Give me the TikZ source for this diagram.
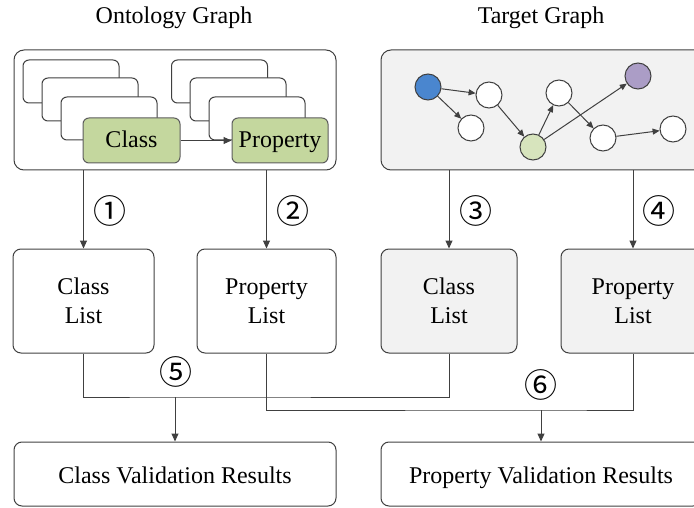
\documentclass[tikz,border=0pt]{standalone}
\usepackage{fontspec}
\setmainfont{Liberation Serif}
\newfontfamily\cjk{Noto Sans CJK SC}
\usetikzlibrary{arrows.meta}
\definecolor{lineC}{HTML}{404040}
\definecolor{grayF}{HTML}{F2F2F2}
\definecolor{greenF}{HTML}{C4D79E}
\definecolor{lgreenF}{HTML}{D7E4BD}
\definecolor{blueF}{HTML}{4A86CF}
\definecolor{purpleF}{HTML}{AB9DC6}
\begin{document}
\begin{tikzpicture}[x=1pt,y=-1pt,
  txt/.style={font=\fontsize{24}{29}\selectfont},
  bigbox/.style={draw=lineC, line width=1pt, rounded corners=10pt, inner sep=0pt},
  listbox/.style={draw=lineC, line width=1pt, rounded corners=8pt, inner sep=0pt, align=center, txt},
  resbox/.style={listbox, text height=18pt, text depth=0pt},
  stackbox/.style={draw=lineC, line width=1pt, rounded corners=6pt, fill=white, inner sep=0pt, minimum width=96pt, minimum height=43pt},
  greenbox/.style={draw=lineC!85, line width=1pt, rounded corners=6pt, fill=greenF, inner sep=0pt, minimum height=45pt, txt, text height=16.5pt, text depth=1.5pt},
  gnode/.style={circle, draw=lineC, line width=1pt, fill=white, minimum size=26pt, inner sep=0pt},
  arr/.style={draw=lineC, line width=1pt, -{Triangle[length=8pt,width=7pt]}},
  garr/.style={draw=lineC, line width=1pt, -{Triangle[length=7pt,width=6pt]}},
  conn/.style={draw=lineC, line width=1pt},
  num/.style={font=\cjk\fontsize{33}{33}\selectfont, inner sep=0pt}]
\useasboundingbox (0,0) rectangle (694,508);

% titles
\node[txt] (t1) at (174,18) {Ontology Graph};
\node[txt] (t2) at (541,18) {Target Graph};

% big boxes
\node[bigbox, minimum width=322pt, minimum height=120pt] (onto) at (175,110) {};
\node[bigbox, fill=grayF, minimum width=324pt, minimum height=120pt] (tgt) at (543,110) {};

% class stack
\node[stackbox] (cs1) at (71,81.5) {};
\node[stackbox] (cs2) at (90,99.5) {};
\node[stackbox] (cs3) at (109,118.5) {};
\node[greenbox, minimum width=97pt] (gc) at (131.5,140.5) {Class};
% property stack
\node[stackbox] (ps1) at (219.5,81.5) {};
\node[stackbox] (ps2) at (238,99.5) {};
\node[stackbox] (ps3) at (257,118.5) {};
\node[greenbox, minimum width=96pt] (gp) at (280,140.5) {Property};
\draw[arr] (gc.east) -- (gp.west);

% target graph
\node[gnode, fill=blueF] (b) at (428,87) {};
\node[gnode] (n1) at (489,95) {};
\node[gnode] (n2) at (471,128) {};
\node[gnode, fill=lgreenF] (g) at (533,147) {};
\node[gnode] (n3) at (559,93) {};
\node[gnode, fill=purpleF] (p) at (638,76) {};
\node[gnode] (n4) at (603,138) {};
\node[gnode] (n5) at (673,129) {};
\draw[garr] (b) -- (n1);
\draw[garr] (b) -- (n2);
\draw[garr] (n1) -- (g);
\draw[garr] (g) -- (n3);
\draw[garr] (g) -- (p);
\draw[garr] (n3) -- (n4);
\draw[garr] (n4) -- (n5);

% lists
\node[listbox, minimum width=141pt, minimum height=104pt] (cl1) at (83.5,301) {Class\\List};
\node[listbox, minimum width=139pt, minimum height=104pt] (pl1) at (266.5,301) {Property\\List};
\node[listbox, fill=grayF, minimum width=136pt, minimum height=104pt] (cl2) at (449,301) {Class\\List};
\node[listbox, fill=grayF, minimum width=144pt, minimum height=104pt] (pl2) at (633,301) {Property\\List};

\draw[arr] (cl1.north |- onto.south) -- (cl1.north);
\draw[arr] (pl1.north |- onto.south) -- (pl1.north);
\draw[arr] (cl2.north |- tgt.south) -- (cl2.north);
\draw[arr] (pl2.north |- tgt.south) -- (pl2.north);

\node[num] (l1) at (110,211) {①};
\node[num] (l2) at (293,211) {②};
\node[num] (l3) at (476,211) {③};
\node[num] (l4) at (659,211) {④};

% results
\node[resbox, minimum width=322pt, minimum height=64pt] (cvr) at (175,474) {Class Validation Results};
\node[resbox, minimum width=320pt, minimum height=64pt] (pvr) at (541,474) {Property Validation Results};

\coordinate (j5) at (cvr.north |- 0,397);
\coordinate (j6) at (pvr.north |- 0,410);
\draw[conn] (cl1.south) |- (j5) -| (cl2.south);
\draw[arr] (j5) -- (cvr.north);
\draw[conn] (pl1.south) |- (j6) -| (pl2.south);
\draw[arr] (j6) -- (pvr.north);

\node[num] (l5) at (176,372) {⑤};
\node[num] (l6) at (541,385) {⑥};
\end{tikzpicture}
\end{document}
